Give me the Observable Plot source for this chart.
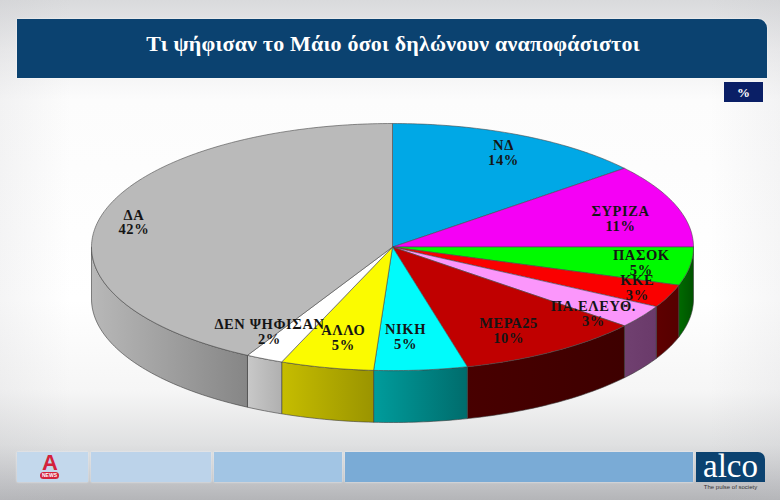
<!DOCTYPE html>
<html lang="el">
<head>
<meta charset="utf-8">
<script src="https://cdn.jsdelivr.net/npm/d3@7"></script>
<script src="https://cdn.jsdelivr.net/npm/@observablehq/plot@0.6"></script>
<style>
  html, body { margin: 0; padding: 0; }
  #stage { position: relative; width: 780px; height: 500px; overflow: hidden;
    font-family: "Liberation Serif", serif;
    background:
      linear-gradient(90deg, rgba(190,190,195,.16) 0, rgba(255,255,255,0) 70px, rgba(255,255,255,0) 710px, rgba(190,190,195,.14) 780px),
      linear-gradient(180deg, #d9dadc 0, #eeeeef 50px, #fcfcfc 100px, #ffffff 300px, #f6f6f6 390px, #dfe0e1 445px, #c4c5c8 480px, #b4b5b8 500px); }
  #stage > * { position: absolute; }
  #chart { left: 0; top: 0; }
  #title { left: 17px; top: 19px; width: 750px; height: 59px; box-sizing: border-box; margin: 0;
    background: #0b4270; color: #fff; border-top-right-radius: 9px; box-shadow: 0 0 2px #fff;
    font-size: 22px; font-weight: bold; line-height: 50px; text-align: center; letter-spacing: .2px; padding-left: 2px; }
  #unit { left: 724px; top: 82px; width: 39px; height: 20px; background: #0a1f66; color: #fff;
    font-size: 13px; font-weight: bold; line-height: 21px; text-align: center; box-shadow: 0 0 1px #fff; }
  .band { top: 452px; height: 30px; box-shadow: 0 0 2px #eef3f8; }
  #brandA { left: 38px; top: 454px; width: 24px; height: 17px; text-align: center; color: #d3223c; font-family: "Liberation Sans", sans-serif;
    font-size: 22px; font-weight: bold; line-height: 17px; }
  #brandNews { left: 40px; top: 472px; width: 19px; height: 7px; border-radius: 4px; background: #d3223c; color: #fff;
    font-family: "Liberation Sans", sans-serif; font-size: 5px; font-weight: bold; line-height: 7px; text-align: center; }
  #logo { left: 696px; top: 452px; width: 69px; height: 30px; background: #0b4270; color: #fff; border-top-right-radius: 7px;
    font-size: 33px; line-height: 29px; text-align: center; }
  #slogan { left: 696px; top: 483px; width: 69px; text-align: center; color: #333; font-family: "Liberation Sans", sans-serif; font-size: 6px; line-height: 8px; }
</style>
</head>
<body>
<div id="stage">
  <h1 id="title">Τι ψήφισαν το Μάιο όσοι δηλώνουν αναποφάσιστοι</h1>
  <div id="unit">%</div>
  <div class="band" style="left:17px;width:71px;background:#c3d8ec"></div>
  <div class="band" style="left:91px;width:120px;background:#bcd3ea"></div>
  <div class="band" style="left:214px;width:128px;background:#a2c5e4"></div>
  <div class="band" style="left:345px;width:348px;background:#7aabd6"></div>
  <div id="brandA">A</div>
  <div id="brandNews">NEWS</div>
  <div id="logo">alco</div>
  <div id="slogan">The pulse of society</div>
</div>
<script>
// Data
const categories = ["ΝΔ", "ΣΥΡΙΖΑ", "ΠΑΣΟΚ", "ΚΚΕ", "ΠΑ.ΕΛΕΥΘ.", "ΜΕΡΑ25", "ΝΙΚΗ", "ΑΛΛΟ", "ΔΕΝ ΨΗΦΙΣΑΝ", "ΔΑ"];
const values = [14, 11, 5, 3, 3, 10, 5, 5, 2, 42];

// Colours of the top faces and of the lit / shaded ends of the side walls
const topColors = ["#00a8e6", "#f500f5", "#00fa00", "#fa0000", "#fb96fb", "#c00000", "#00fbfb", "#fbfb00", "#ffffff", "#bababa"];
const sideLight = ["#0078a0", "#a000a0", "#006a00", "#5e0000", "#704070", "#480000", "#009c9c", "#c6bd00", "#c8c8c8", "#b8b8b8"];
const sideDark  = ["#0078a0", "#a000a0", "#005200", "#560000", "#6a3a6a", "#3e0000", "#006c6c", "#9a9400", "#b0b0b0", "#868686"];

// Label placement along each slice's middle angle (horizontal, vertical share of the radius)
const labelRadiusX = [0.866, 0.805, 0.837, 0.886, 0.807, 0.72, 0.46, 0.75, 0.96, 0.887];
const labelRadiusY = [0.84, 0.67, 0.83, 0.83, 0.96, 0.8, 0.73, 0.75, 0.76, 0.81];

// Pie geometry in unit-ellipse coordinates; the depth is in units of the vertical radius
const depth = 0.42;
const total = d3.sum(values);
const ends = d3.cumsum(values);
const slices = categories.map((name, i) => ({
  i, name, value: values[i],
  a0: (ends[i] - values[i]) / total * 2 * Math.PI,
  a1: ends[i] / total * 2 * Math.PI
}));
const onRim = (a) => ({x: Math.sin(a), y: -Math.cos(a)});
const arc = (a0, a1) => d3.range(0, 1 + 1e-9, 1 / Math.max(2, Math.ceil((a1 - a0) * 60))).map((t) => onRim(a0 + (a1 - a0) * t));

const topPoints = slices.flatMap((s) =>
  [{x: 0, y: 0}, ...arc(s.a0, s.a1), {x: 0, y: 0}].map((p) => ({...p, name: s.name, fill: topColors[s.i]}))
);
const sidePoints = slices.flatMap((s) => {
  const a0 = Math.max(s.a0, Math.PI / 2), a1 = Math.min(s.a1, 1.5 * Math.PI);
  if (a1 <= a0) return [];
  const rim = arc(a0, a1);
  const wall = [...rim, ...rim.slice().reverse().map((p) => ({x: p.x, y: p.y + depth})), rim[0]];
  return wall.map((p) => ({...p, name: s.name, fill: `url(#side-${s.i})`}));
});
const labels = slices.map((s) => {
  const mid = (s.a0 + s.a1) / 2, p = onRim(mid);
  return {x: p.x * labelRadiusX[s.i], y: p.y * labelRadiusY[s.i], text: `${s.name}\n${s.value}%`};
});

const gradients = () => {
  const defs = d3.create("svg:defs");
  const g = defs.selectAll("linearGradient").data(slices).join("linearGradient")
    .attr("id", (s) => `side-${s.i}`).attr("x1", 0).attr("x2", 1).attr("y1", 0).attr("y2", 0);
  g.append("stop").attr("offset", 0).attr("stop-color", (s) => sideLight[s.i]);
  g.append("stop").attr("offset", 1).attr("stop-color", (s) => sideDark[s.i]);
  return defs.node();
};

const chart = Plot.plot({
  width: 780,
  height: 500,
  margin: 0,
  style: {background: "transparent", fontFamily: "'Liberation Serif', serif", letterSpacing: "0.6px"},
  x: {axis: null, domain: [-1, 1], range: [91, 693]},
  y: {axis: null, domain: [-1, 1 + depth], range: [123, 422]},
  color: {type: "identity"},
  marks: [
    gradients,
    Plot.line(sidePoints, {x: "x", y: "y", z: "name", fill: "fill", stroke: "#3a3a3a", strokeWidth: 0.6, curve: "linear"}),
    Plot.line(topPoints, {x: "x", y: "y", z: "name", fill: "fill", stroke: "#4a4a4a", strokeWidth: 0.6, curve: "linear"}),
    Plot.text(labels, {x: "x", y: "y", text: "text", fontSize: 14.5, fontWeight: "bold", fill: "#151515", lineHeight: 1.02, lineAnchor: "middle"})
  ]
});
chart.id = "chart";
document.getElementById("stage").prepend(chart);
</script>
</body>
</html>
